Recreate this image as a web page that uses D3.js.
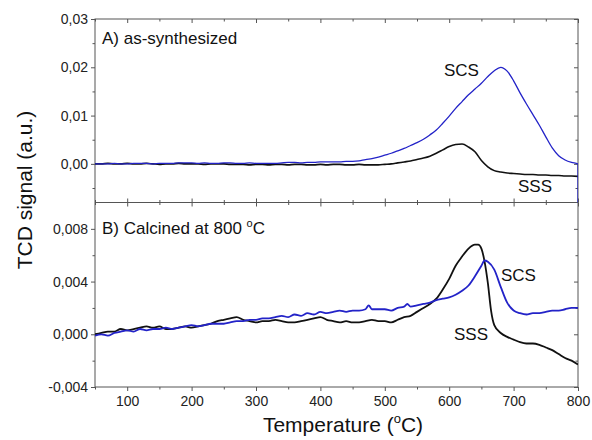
<!DOCTYPE html>
<html><head><meta charset="utf-8">
<script src="https://cdn.jsdelivr.net/npm/d3@7"></script>
<style>
body{margin:0;background:#fff;}
svg{display:block;font-family:"Liberation Sans",Arial,sans-serif;}
</style></head>
<body><svg id="c" width="592" height="440"></svg>
<script>
// ---- Data (Temperature in °C, TCD signal in a.u.) ----
const topTemps = [50,60,70,80,90,100,110,120,130,140,150,160,170,180,190,200,210,220,230,240,250,260,270,280,290,300,310,320,330,340,350,360,370,380,390,400,410,420,430,440,450,460,470,480,490,500,510,520,530,540,550,560,570,580,590,600,610,620,630,640,650,660,670,680,690,700,710,720,730,740,750,760,770,780,790,800,800];
const topSCS = [0.0000,0.0000,0.0000,0.0001,0.0000,0.0000,0.0001,0.0001,0.0001,0.0000,0.0001,0.0001,0.0001,0.0002,0.0002,0.0002,0.0001,0.0002,0.0001,0.0001,0.0002,0.0002,0.0001,0.0001,0.0002,0.0001,0.0001,0.0001,0.0001,0.0002,0.0003,0.0003,0.0002,0.0003,0.0003,0.0004,0.0004,0.0004,0.0004,0.0005,0.0005,0.0006,0.0009,0.0011,0.0014,0.0018,0.0022,0.0027,0.0032,0.0038,0.0044,0.0051,0.0060,0.0070,0.0084,0.0099,0.0115,0.0129,0.0143,0.0155,0.0167,0.0181,0.0193,0.0200,0.0192,0.0172,0.0147,0.0124,0.0102,0.0080,0.0056,0.0033,0.0017,0.0008,0.0003,0.0000,-0.0090];
const topSSS = [0.0000,0.0000,0.0001,0.0000,0.0000,0.0001,0.0000,0.0000,0.0001,0.0000,-0.0001,0.0000,0.0000,0.0001,0.0000,0.0000,0.0000,-0.0001,0.0000,0.0000,0.0000,-0.0001,-0.0001,-0.0001,-0.0002,-0.0001,-0.0001,-0.0002,-0.0001,-0.0001,-0.0002,-0.0001,-0.0001,-0.0002,-0.0002,-0.0001,-0.0002,-0.0001,-0.0001,-0.0002,-0.0002,-0.0001,-0.0002,-0.0002,-0.0002,-0.0001,0.0000,0.0002,0.0004,0.0006,0.0009,0.0012,0.0016,0.0022,0.0029,0.0036,0.0040,0.0041,0.0035,0.0025,0.0007,-0.0006,-0.0014,-0.0017,-0.0019,-0.0020,-0.0021,-0.0022,-0.0022,-0.0023,-0.0023,-0.0024,-0.0024,-0.0025,-0.0025,-0.0026,-0.0026];

const botTempsSSS = [50,60,70,80,90,100,110,120,130,140,150,160,170,180,190,200,210,220,230,240,250,260,270,280,290,300,310,320,330,340,350,360,370,380,390,400,410,420,430,440,450,460,470,480,490,500,510,520,530,540,550,560,570,580,590,600,610,620,630,640,645,650,655,660,665,670,680,690,700,710,720,730,740,750,760,770,780,790,800];
const botSSS = [0.0000,0.0001,0.0002,0.0002,0.0004,0.0003,0.0004,0.0005,0.0006,0.0005,0.0006,0.0004,0.0004,0.0005,0.0006,0.0005,0.0006,0.0007,0.0008,0.0010,0.0011,0.0012,0.0013,0.0011,0.0010,0.0009,0.0010,0.0010,0.0011,0.0010,0.0009,0.0009,0.0010,0.0011,0.0012,0.0013,0.0011,0.0010,0.0009,0.0010,0.0009,0.0009,0.0010,0.0011,0.0010,0.0010,0.0009,0.0011,0.0013,0.0014,0.0017,0.0020,0.0023,0.0027,0.0034,0.0042,0.0052,0.0059,0.0065,0.0068,0.0068,0.0065,0.0055,0.0039,0.0018,0.0007,0.0001,-0.0002,-0.0004,-0.0006,-0.0007,-0.0007,-0.0008,-0.0010,-0.0012,-0.0015,-0.0018,-0.0020,-0.0023];
const botTempsSCS = [50,60,70,80,90,100,110,120,130,140,150,160,170,180,190,200,210,220,230,240,250,260,270,280,290,300,310,320,330,340,350,360,370,380,390,400,410,420,430,440,450,460,470,475,480,490,500,510,520,530,535,540,550,560,570,580,590,600,610,620,630,640,650,655,660,670,680,690,700,710,720,730,740,750,760,770,780,790,800];
const botSCS = [-0.0001,0.0000,-0.0001,0.0001,0.0002,0.0003,0.0002,0.0004,0.0003,0.0004,0.0004,0.0005,0.0004,0.0005,0.0006,0.0007,0.0006,0.0007,0.0008,0.0008,0.0008,0.0009,0.0010,0.0010,0.0011,0.0011,0.0012,0.0012,0.0013,0.0014,0.0013,0.0015,0.0014,0.0016,0.0015,0.0017,0.0016,0.0017,0.0018,0.0017,0.0018,0.0018,0.0019,0.0022,0.0019,0.0019,0.0019,0.0018,0.0020,0.0021,0.0023,0.0021,0.0022,0.0023,0.0024,0.0026,0.0027,0.0028,0.0030,0.0033,0.0037,0.0044,0.0052,0.0056,0.0055,0.0049,0.0036,0.0024,0.0018,0.0016,0.0015,0.0016,0.0016,0.0017,0.0018,0.0018,0.0019,0.0020,0.0020];

const xTicks = [100,200,300,400,500,600,700,800];
const topYTicks = [0.00,0.01,0.02,0.03];
const topYLabels = ["0,00","0,01","0,02","0,03"];
const botYTicks = [-0.004,0.000,0.004,0.008];
const botYLabels = ["-0,004","0,000","0,004","0,008"];

// ---- Layout ----
const L = 95, R = 578, T1 = 19, B1 = 202.5, B2 = 387;
const FONT = "'Liberation Sans', Arial, sans-serif";
const svg = d3.select("#c");
const x = d3.scaleLinear().domain([50,800]).range([L,R]);
const yTop = d3.scaleLinear().domain([-0.008,0.03]).range([B1,T1]);
const yBot = d3.scaleLinear().domain([-0.004,0.010]).range([B2,B1]);
const spine = "#555";
const blue = "#2323c8", black = "#111";

const defs = svg.append("defs");
defs.append("clipPath").attr("id","cTop").append("rect").attr("x",L).attr("y",T1).attr("width",R-L).attr("height",B1-T1);
defs.append("clipPath").attr("id","cBot").append("rect").attr("x",L).attr("y",B1).attr("width",R-L).attr("height",B2-B1);

const xMinor = d3.range(50,801,50).filter(v=>v%100!==0);
function styleAxis(g){ g.attr("font-family",FONT); g.select(".domain").remove(); g.selectAll("line").attr("stroke",spine); g.selectAll("text").attr("fill","#222").style("font-size","14px").style("font-family",FONT); }

// x axes: bottom (outward, labelled)
svg.append("g").attr("transform",`translate(0,${B2})`).call(d3.axisBottom(x).tickValues(xTicks).tickSize(4).tickPadding(5).tickFormat(d3.format("d"))).call(styleAxis);
svg.append("g").attr("transform",`translate(0,${B2})`).call(d3.axisBottom(x).tickValues(xMinor).tickSize(2.5).tickFormat("")).call(styleAxis);
// top of top panel (inward)
svg.append("g").attr("transform",`translate(0,${T1})`).call(d3.axisBottom(x).tickValues(xTicks).tickSize(4).tickFormat("")).call(styleAxis);
svg.append("g").attr("transform",`translate(0,${T1})`).call(d3.axisBottom(x).tickValues(xMinor).tickSize(2.5).tickFormat("")).call(styleAxis);
// shared border: ticks into both panels
svg.append("g").attr("transform",`translate(0,${B1})`).call(d3.axisBottom(x).tickValues(xTicks).tickSize(4).tickFormat("")).call(styleAxis);
svg.append("g").attr("transform",`translate(0,${B1})`).call(d3.axisBottom(x).tickValues(xMinor).tickSize(2.5).tickFormat("")).call(styleAxis);
svg.append("g").attr("transform",`translate(0,${B1})`).call(d3.axisTop(x).tickValues(xTicks).tickSize(4).tickFormat("")).call(styleAxis);
svg.append("g").attr("transform",`translate(0,${B1})`).call(d3.axisTop(x).tickValues(xMinor).tickSize(2.5).tickFormat("")).call(styleAxis);

// y axes top panel
const topMinor = [-0.005,0.005,0.015,0.025];
svg.append("g").attr("transform",`translate(${L},0)`).call(d3.axisLeft(yTop).tickValues(topYTicks).tickSize(4).tickPadding(3).tickFormat((d,i)=>topYLabels[i])).call(styleAxis);
svg.append("g").attr("transform",`translate(${L},0)`).call(d3.axisLeft(yTop).tickValues(topMinor).tickSize(2.5).tickFormat("")).call(styleAxis);
svg.append("g").attr("transform",`translate(${R},0)`).call(d3.axisLeft(yTop).tickValues(topYTicks).tickSize(4).tickFormat("")).call(styleAxis);
svg.append("g").attr("transform",`translate(${R},0)`).call(d3.axisLeft(yTop).tickValues(topMinor).tickSize(2.5).tickFormat("")).call(styleAxis);
// y axes bottom panel
const botMinor = [-0.002,0.002,0.006];
svg.append("g").attr("transform",`translate(${L},0)`).call(d3.axisLeft(yBot).tickValues(botYTicks).tickSize(4).tickPadding(3).tickFormat((d,i)=>botYLabels[i])).call(styleAxis);
svg.append("g").attr("transform",`translate(${L},0)`).call(d3.axisLeft(yBot).tickValues(botMinor).tickSize(2.5).tickFormat("")).call(styleAxis);
svg.append("g").attr("transform",`translate(${R},0)`).call(d3.axisLeft(yBot).tickValues(botYTicks).tickSize(4).tickFormat("")).call(styleAxis);
svg.append("g").attr("transform",`translate(${R},0)`).call(d3.axisLeft(yBot).tickValues(botMinor).tickSize(2.5).tickFormat("")).call(styleAxis);

// frames
svg.append("rect").attr("x",L).attr("y",T1).attr("width",R-L).attr("height",B2-T1).attr("fill","none").attr("stroke",spine).attr("stroke-width",1);
svg.append("line").attr("x1",L).attr("x2",R).attr("y1",B1).attr("y2",B1).attr("stroke",spine).attr("stroke-width",1);

// lines
function mkLine(xs, ys, yScale, color, w, clip){
  const pts = xs.map((t,i)=>[t, ys[i]]);
  svg.append("path").datum(pts).attr("clip-path",`url(#${clip})`)
    .attr("fill","none").attr("stroke",color).attr("stroke-width",w).attr("stroke-linejoin","round")
    .attr("d", d3.line().x(d=>x(d[0])).y(d=>yScale(d[1])).curve(d3.curveMonotoneX));
}
mkLine(topTemps, topSSS, yTop, black, 1.6, "cTop");
mkLine(topTemps, topSCS, yTop, blue, 1.3, "cTop");
mkLine(botTempsSSS, botSSS, yBot, black, 1.8, "cBot");
mkLine(botTempsSCS, botSCS, yBot, blue, 1.8, "cBot");

// annotations
const ann = svg.append("g").attr("fill","#111").style("font-size","17px").style("font-family",FONT);
ann.append("text").attr("x",102).attr("y",44).text("A) as-synthesized");
const bt = ann.append("text").attr("x",102).attr("y",234);
bt.append("tspan").text("B) Calcined at 800 ");
bt.append("tspan").attr("dy",-7).style("font-size","11px").text("o");
bt.append("tspan").attr("dy",7).text("C");
ann.append("text").attr("x",444).attr("y",76).text("SCS");
ann.append("text").attr("x",518).attr("y",192).text("SSS");
ann.append("text").attr("x",501).attr("y",281).text("SCS");
ann.append("text").attr("x",454).attr("y",340).text("SSS");

// axis titles
const xt = svg.append("text").attr("x",343).attr("y",432).attr("text-anchor","middle").attr("fill","#111").style("font-size","21px").style("font-family",FONT);
xt.append("tspan").text("Temperature (");
xt.append("tspan").attr("dy",-9).style("font-size","13px").text("o");
xt.append("tspan").attr("dy",9).text("C)");
svg.append("text").attr("transform","translate(32,190) rotate(-90)").attr("text-anchor","middle").attr("fill","#111").style("font-size","21px").style("font-family",FONT).text("TCD signal (a.u.)");
</script></body></html>
